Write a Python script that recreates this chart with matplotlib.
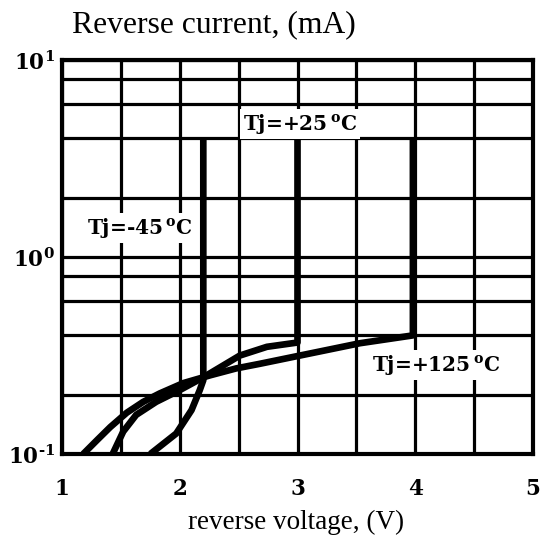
import numpy as np
import matplotlib
matplotlib.use('Agg')
import matplotlib.pyplot as plt
from matplotlib.ticker import FixedLocator, NullFormatter

# bold serif for the labels and the exponents
plt.rcParams['mathtext.fontset'] = 'dejavuserif'

# reverse current curves (V, mA)
v_m45 = [1.75, 1.97, 2.10, 2.17, 2.20, 2.20]
i_m45 = [0.100, 0.127, 0.167, 0.211, 0.237, 4.0]

v_p25 = [1.43, 1.52, 1.63, 1.80, 2.00, 2.20, 2.51, 2.74, 3.00, 3.00]
i_p25 = [0.100, 0.130, 0.158, 0.184, 0.211, 0.245, 0.316, 0.350, 0.368, 4.0]

v_p125 = [1.18, 1.30, 1.41, 1.55, 1.69, 1.83, 2.03, 2.26, 2.48, 2.68, 3.02, 3.53, 3.98, 3.98]
i_p125 = [0.100, 0.118, 0.137, 0.162, 0.184, 0.203, 0.229, 0.251, 0.272, 0.287, 0.316, 0.365, 0.400, 4.0]

x_major = [1, 2, 3, 4, 5]
x_minor = [1.5, 2.5, 3.5, 4.5]
y_major = [0.1, 1, 10]
y_minor = [0.2, 0.4, 0.6, 0.8, 2, 4, 6, 8]
y_labels = ['$\\mathbf{10^{\u2010 1}}$', r'$\mathbf{10^{0}}$', r'$\mathbf{10^{1}}$']

fig = plt.figure(figsize=(5.4, 5.39), dpi=100)
ax = fig.add_axes([62 / 540, 1 - 454 / 539, 471 / 540, 394 / 539])

ax.set_yscale('log')
ax.set_xlim(1, 5)
ax.set_ylim(0.1, 10)

ax.xaxis.set_major_locator(FixedLocator(x_major))
ax.xaxis.set_minor_locator(FixedLocator(x_minor))
ax.yaxis.set_major_locator(FixedLocator(y_major))
ax.yaxis.set_minor_locator(FixedLocator(y_minor))
ax.yaxis.set_minor_formatter(NullFormatter())
ax.set_xticklabels([str(v) for v in x_major], fontfamily='DejaVu Serif',
                   fontweight='bold', fontsize=15.5)
ax.set_yticklabels(y_labels, fontsize=15.5)
ax.tick_params(which='both', length=0)
ax.tick_params(axis='x', pad=17)
ax.tick_params(axis='y', pad=5)

ax.grid(which='both', color='black', linewidth=2.3)
for sp in ax.spines.values():
    sp.set_linewidth(3)
    sp.set_color('black')

# curves
for v, i in [(v_m45, i_m45), (v_p25, i_p25), (v_p125, i_p125)]:
    ax.plot(v, i, color='black', linewidth=4.8, solid_capstyle='butt',
            solid_joinstyle='round', zorder=3)

box = dict(facecolor='white', edgecolor='none', pad=2)
lab_kw = dict(fontfamily='DejaVu Serif', fontweight='bold', fontsize=14.5,
              ha='center', va='center', zorder=5, bbox=box)
ax.text(1.66, 1.40, r'Tj=-45$\,^{\mathbf{o}}$C', **lab_kw)
ax.text(3.02, 4.75, r'Tj=+25$\,^{\mathbf{o}}$C', **lab_kw)
ax.text(4.18, 0.283, r'Tj=+125$\,^{\mathbf{o}}$C', **lab_kw)

fig.text(72 / 540, 1 - 25 / 539, 'Reverse current, (mA)', fontfamily='Liberation Serif',
         fontsize=22.8, ha='left', va='center')
fig.text(296 / 540, 1 - 522 / 539, 'reverse voltage, (V)', fontfamily='Liberation Serif',
         fontsize=19.5, ha='center', va='center')

fig.savefig('out.png', dpi=100)
